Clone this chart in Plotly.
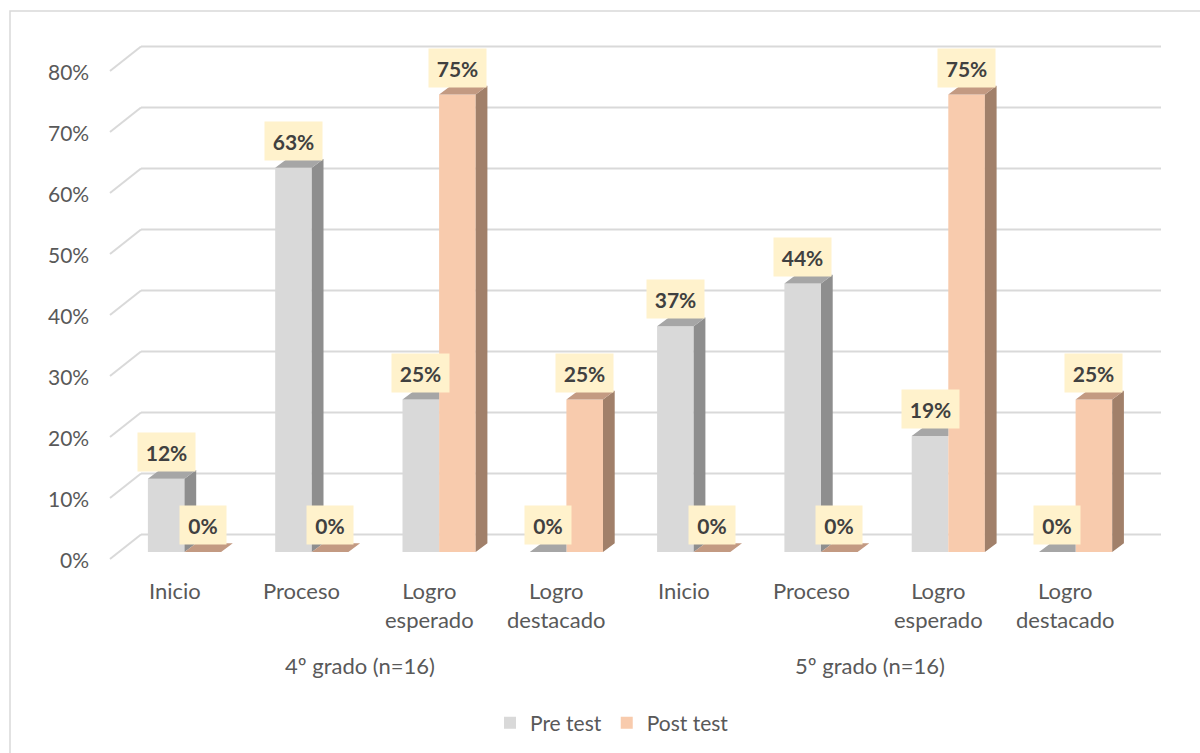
import plotly.graph_objects as go

# ---- data -------------------------------------------------------------
categories = ["Inicio", "Proceso", "Logro<br>esperado", "Logro<br>destacado",
              "Inicio", "Proceso", "Logro<br>esperado", "Logro<br>destacado"]
groups = ["4º grado (n=16)", "5º grado (n=16)"]
pre_test = [12, 63, 25, 0, 37, 44, 19, 0]
post_test = [0, 0, 75, 25, 0, 0, 75, 25]
y_ticks = [0, 10, 20, 30, 40, 50, 60, 70, 80]
series_names = ["Pre test", "Post test"]

# ---- geometry of the pseudo-3D view (pixels -> data units) -------------
W, H = 1200, 753
PX_PER_X = 127.3      # pixels between neighbouring categories
X0_PX = 184.5         # pixel column of the first category
PX_PER_PCT = 6.1      # pixels per percentage point
Y0_PX = 552           # pixel row of the bars' base


def xd(px):
    return (px - X0_PX) / PX_PER_X


def yd(py):
    return (Y0_PX - py) / PX_PER_PCT


BAR_W = 36.6 / PX_PER_X          # front face width
DX = 11.7 / PX_PER_X             # depth offset, horizontal
DY = 8.8 / PX_PER_PCT            # depth offset, vertical
BACK_DY = 17.5 / PX_PER_PCT      # back wall sits above the bar base
FRONT_DY = -7.0 / PX_PER_PCT     # front floor edge sits below the bar base
X_WALL0, X_WALL1 = xd(141), xd(1161)
X_FRONT = xd(110)

FONT = "Lato"
TEXT_COL = "#595959"
GRID_COL = "#D9D9D9"

colors = {
    "Pre test": {"front": "#D9D9D9", "side": "#8E8E8E", "top": "#A6A6A6"},
    "Post test": {"front": "#F8CBAD", "side": "#A1806A", "top": "#C39A82"},
}

centers = list(range(len(categories)))

fig = go.Figure()

# front faces
for name, vals, off in [("Pre test", pre_test, -BAR_W), ("Post test", post_test, 0.0)]:
    fig.add_trace(go.Bar(
        x=centers, y=vals, base=0, width=BAR_W, offset=off, name=name,
        marker=dict(color=colors[name]["front"], line=dict(width=0)),
        hoverinfo="skip",
    ))


def add_poly(xs, ys, color):
    fig.add_trace(go.Scatter(
        x=xs, y=ys, mode="lines", fill="toself", fillcolor=color,
        line=dict(width=0, color=color), showlegend=False, hoverinfo="skip",
    ))


# side and top faces of the pre-test bars (partly hidden by the post bar beside them)
sx, sy, tx, ty = [], [], [], []
for c, v, p in zip(centers, pre_test, post_test):
    right = c
    left = c - BAR_W
    if p < v:
        sx += [right, right + DX, right + DX, right, right, None]
        sy += [p, p + DY, v + DY, v, p, None]
    if p >= v + DY:
        tx += [left, right, right, left + DX, left, None]
        ty += [v, v, v + DY, v + DY, v, None]
    else:
        tx += [left, right, right + DX, left + DX, left, None]
        ty += [v, v, v + DY, v + DY, v, None]
add_poly(sx, sy, colors["Pre test"]["side"])
add_poly(tx, ty, colors["Pre test"]["top"])

# side and top faces of the post-test bars
sx, sy, tx, ty = [], [], [], []
for c, v in zip(centers, post_test):
    left = c
    right = c + BAR_W
    if v > 0:
        sx += [right, right + DX, right + DX, right, right, None]
        sy += [0, DY, v + DY, v, 0, None]
    tx += [left, right, right + DX, left + DX, left, None]
    ty += [v, v, v + DY, v + DY, v, None]
add_poly(sx, sy, colors["Post test"]["side"])
add_poly(tx, ty, colors["Post test"]["top"])

# ---- walls: gridlines on the back wall and their floor diagonals --------
shapes = []
for t in y_ticks:
    shapes.append(dict(type="line", layer="below", xref="x", yref="y",
                       x0=X_WALL0, x1=X_WALL1, y0=t + BACK_DY, y1=t + BACK_DY,
                       line=dict(color=GRID_COL, width=2)))
    shapes.append(dict(type="line", layer="below", xref="x", yref="y",
                       x0=X_FRONT, x1=X_WALL0, y0=t + FRONT_DY, y1=t + BACK_DY,
                       line=dict(color=GRID_COL, width=2)))
# chart frame
shapes.append(dict(type="rect", xref="paper", yref="paper",
                   x0=10 / W, x1=1.02, y0=-0.02, y1=1 - 11 / H,
                   line=dict(color=GRID_COL, width=1.5), layer="below"))

annotations = []
# value axis labels
for t in y_ticks:
    annotations.append(dict(x=xd(91), y=t + FRONT_DY, xref="x", yref="y",
                            text=f"{t}%", showarrow=False, xanchor="right",
                            yanchor="middle",
                            font=dict(family=FONT, size=21, color=TEXT_COL)))

# category labels
for c, lab in zip(centers, categories):
    annotations.append(dict(x=c - 10 / PX_PER_X, y=yd(575), xref="x", yref="y",
                            text=lab, showarrow=False, xanchor="center",
                            yanchor="top", align="center",
                            font=dict(family=FONT, size=22, color=TEXT_COL)))

# group labels
for gi, g in enumerate(groups):
    mid = sum(centers[gi * 4:(gi + 1) * 4]) / 4
    annotations.append(dict(x=mid - 15 / PX_PER_X, y=yd(665), xref="x", yref="y",
                            text=g, showarrow=False, xanchor="center",
                            yanchor="middle",
                            font=dict(family=FONT, size=22, color=TEXT_COL)))

# value labels
for vals, shift in [(pre_test, -BAR_W / 2), (post_test, BAR_W / 2)]:
    for c, v in zip(centers, vals):
        txt = f"{v}%"
        annotations.append(dict(x=c + shift, y=v, xref="x", yref="y",
                                text=f"<b>{txt}</b>", showarrow=False,
                                xanchor="center", yanchor="bottom", yshift=7,
                                width=24 + 11 * len(txt), height=38,
                                borderpad=0, bgcolor="#FFF2CC",
                                font=dict(family=FONT, size=21, color="#404040")))

fig.update_layout(
    width=W, height=H,
    margin=dict(l=0, r=0, t=0, b=0),
    paper_bgcolor="white", plot_bgcolor="white",
    barmode="overlay",
    xaxis=dict(range=[xd(0), xd(W)], visible=False, fixedrange=True),
    yaxis=dict(range=[yd(H), yd(0)], visible=False, fixedrange=True),
    shapes=shapes,
    annotations=annotations,
    showlegend=True,
    legend=dict(orientation="h", x=612 / W, xanchor="center",
                y=1 - 723 / H, yanchor="middle",
                bgcolor="rgba(0,0,0,0)",
                font=dict(family=FONT, size=21, color=TEXT_COL)),
)

fig.write_html("out.html")
